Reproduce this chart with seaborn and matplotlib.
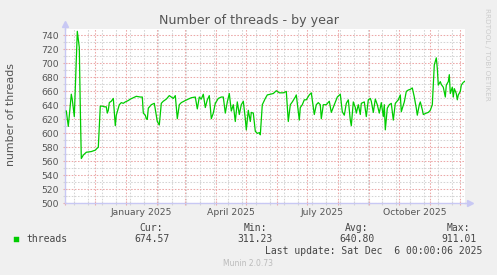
import numpy as np
import pandas as pd
import matplotlib
matplotlib.use("Agg")
import matplotlib.pyplot as plt
import matplotlib.dates as mdates
from matplotlib.patches import Rectangle
import seaborn as sns

# ---------------- data ----------------
start_date = "2024-11-01"
end_date = "2025-12-06"
day_offset = [1, 3, 6, 7, 9, 11, 12, 14, 15, 16, 18, 21, 26, 30, 32, 33, 35, 37, 39, 41,
              42, 43, 44, 46, 48, 50, 51, 54, 56, 58, 60, 63, 65, 68, 71, 75, 77, 78, 80, 81,
              82, 83, 86, 89, 91, 92, 94, 96, 98, 101, 104, 106, 108, 110, 112, 114, 116, 120, 123, 126,
              130, 132, 134, 136, 138, 140, 142, 144, 146, 148, 150, 153, 156, 158, 160, 162, 164, 166, 168, 170,
              172, 174, 176, 178, 180, 181, 183, 185, 186, 188, 190, 192, 194, 195, 197, 200, 202, 205, 208, 211,
              214, 218, 221, 223, 225, 227, 230, 231, 234, 235, 237, 239, 241, 244, 246, 249, 251, 253, 255, 256,
              258, 261, 264, 266, 269, 271, 272, 275, 277, 279, 281, 283, 285, 286, 288, 290, 291, 293, 295, 296,
              299, 301, 303, 305, 306, 308, 310, 312, 314, 316, 318, 319, 320, 322, 324, 326, 328, 330, 333, 335,
              336, 339, 341, 343, 345, 347, 349, 351, 352, 354, 355, 357, 358, 361, 363, 365, 367, 368, 369, 371,
              372, 373, 375, 376, 378, 380, 381, 383, 384, 385, 387, 388, 389, 391, 392, 393, 395, 396, 398, 400]
threads = [632, 610, 656, 648, 624, 708, 746, 723, 636, 564, 569, 573, 574, 576, 579, 580, 639, 639, 638, 638,
           629, 633, 644, 646, 650, 611, 626, 641, 644, 643, 645, 647, 649, 651, 653, 652, 652, 629, 626, 621,
           620, 636, 641, 643, 626, 617, 612, 643, 646, 649, 654, 652, 650, 654, 621, 641, 644, 647, 649, 651,
           652, 635, 652, 649, 656, 637, 648, 654, 621, 629, 643, 650, 652, 652, 629, 645, 657, 632, 641, 617,
           645, 627, 641, 646, 621, 605, 633, 617, 630, 629, 603, 600, 601, 598, 641, 650, 655, 656, 657, 661,
           658, 658, 660, 617, 641, 645, 652, 655, 619, 637, 641, 648, 648, 655, 658, 627, 641, 644, 641, 621,
           641, 641, 646, 630, 641, 648, 652, 656, 631, 626, 643, 648, 619, 611, 645, 637, 629, 641, 627, 643,
           645, 624, 648, 650, 646, 630, 649, 641, 629, 644, 624, 641, 605, 636, 641, 643, 619, 643, 648, 655,
           631, 645, 660, 662, 663, 665, 652, 636, 626, 641, 645, 634, 627, 629, 630, 633, 641, 669, 698, 708,
           693, 669, 674, 670, 666, 652, 669, 674, 684, 657, 666, 652, 664, 657, 648, 655, 660, 669, 673, 675]

month_labels = ["January 2025", "April 2025", "July 2025", "October 2025"]
month_label_dates = ["2025-01-16", "2025-04-16", "2025-07-16", "2025-10-16"]
y_ticks = list(range(500, 741, 20))
legend_name = "threads"
legend_cur, legend_min, legend_avg, legend_max = "674.57", "311.23", "640.80", "911.01"
last_update = "Last update: Sat Dec  6 00:00:06 2025"

# ---------------- figure ----------------
W, H = 497, 275
fig = plt.figure(figsize=(W / 100, H / 100), dpi=100, facecolor="#f0f0f0")
ax = fig.add_axes([65.3 / W, (H - 203.3) / H, 400 / W, (203.3 - 28.5) / H])
ax.set_facecolor("#ffffff")

t0 = pd.Timestamp(start_date)
t1 = pd.Timestamp(end_date)
df = pd.DataFrame({"date": t0 + pd.to_timedelta(day_offset, unit="D"), "threads": threads})

sns.lineplot(data=df, x="date", y="threads", ax=ax, color="#00cc00", linewidth=0.9, zorder=3)

ax.set_xlim(t0, t1)
ax.set_ylim(500, 750)

# grid
minor_grid = "#d4d4d4"
major_grid = "#eca8a8"
dots = (0, (1.5, 1.5))
ax.xaxis.set_major_locator(mdates.MonthLocator())
ax.xaxis.set_minor_locator(mdates.DayLocator(interval=1))
biweekly = pd.date_range("2024-11-10", end_date, freq="14D")
ax.set_xticks(mdates.date2num(biweekly), minor=True)
ax.xaxis.set_major_formatter(plt.NullFormatter())
ax.set_yticks(y_ticks)
ax.set_yticks(list(range(510, 750, 20)), minor=True)
ax.set_yticklabels([str(v) for v in y_ticks])

ax.grid(True, which="major", color=major_grid, linestyle=dots, linewidth=0.75)
ax.grid(True, which="minor", color=minor_grid, linestyle=dots, linewidth=0.75)
ax.set_axisbelow(True)

ax.tick_params(axis="x", which="major", length=3, width=0.8, color=major_grid, direction="inout")
ax.tick_params(axis="x", which="minor", length=3, width=0.8, color=minor_grid, direction="inout")
ax.tick_params(axis="y", which="major", length=3, width=0.8, color=major_grid, direction="inout",
               labelsize=6.7, labelcolor="#555555", pad=3)
ax.tick_params(axis="y", which="minor", length=3, width=0.8, color=minor_grid, direction="inout")

sec = ax.secondary_xaxis("bottom")
sec.set_xticks(mdates.date2num(pd.to_datetime(month_label_dates)))
sec.set_xticklabels(month_labels)
sec.tick_params(length=0, labelsize=6.7, labelcolor="#555555", pad=3.5)
for s in sec.spines.values():
    s.set_visible(False)

ax.set_xlabel("")
ax.set_ylabel("")

axis_col = "#c8c8f4"
for side in ["top", "right"]:
    ax.spines[side].set_visible(False)
for side in ["left", "bottom"]:
    ax.spines[side].set_color(axis_col)
    ax.spines[side].set_linewidth(1.0)
ax.plot([1.0, 1.012], [0, 0], transform=ax.transAxes, color=axis_col, lw=1.0, clip_on=False)
ax.plot([1.012], [0], marker=">", markersize=5, color=axis_col, transform=ax.transAxes, clip_on=False)
ax.plot([0, 0], [1.0, 1.02], transform=ax.transAxes, color=axis_col, lw=1.0, clip_on=False)
ax.plot([0], [1.025], marker="^", markersize=5, color=axis_col, transform=ax.transAxes, clip_on=False)

# texts
fig.text(248.8 / W, (H - 24.3) / H, "Number of threads - by year", ha="center", va="baseline",
         fontsize=9.1, color="#555555")
fig.text(11.5 / W, (H - 114) / H, "number of threads", rotation=90, ha="center", va="center",
         fontsize=7.9, color="#555555")
fig.text(487.5 / W, (H - 54) / H, "RRDTOOL / TOBI OETIKER", rotation=-90, ha="center", va="center",
         fontsize=5.2, color="#cccccc")

mono = "DejaVu Sans Mono"
lc = "#444444"
fs = 7.0
fig.patches.append(Rectangle((14 / W, (H - 242.3) / H), 5.3 / W, 5.3 / H, transform=fig.transFigure,
                             facecolor="#00cc00", edgecolor="#00cc00", lw=0.3))
fig.text(26.7 / W, (H - 239.3) / H, legend_name, family=mono, fontsize=fs, color=lc, ha="left", va="center")
for xh, xv, head, val in [(162.7, 169.3, "Cur:", legend_cur), (266.7, 272.7, "Min:", legend_min),
                          (368.3, 374.3, "Avg:", legend_avg), (470.0, 476.7, "Max:", legend_max)]:
    fig.text(xh / W, (H - 227.7) / H, head, family=mono, fontsize=fs, color=lc, ha="right", va="center")
    fig.text(xv / W, (H - 239.3) / H, val, family=mono, fontsize=fs, color=lc, ha="right", va="center")
fig.text(482.3 / W, (H - 251) / H, last_update, family=mono, fontsize=fs, color=lc, ha="right", va="center")
fig.text(248 / W, (H - 264) / H, "Munin 2.0.73", ha="center", va="center", fontsize=5.5, color="#bbbbbb")

fig.savefig("out.png", dpi=100, facecolor=fig.get_facecolor())
